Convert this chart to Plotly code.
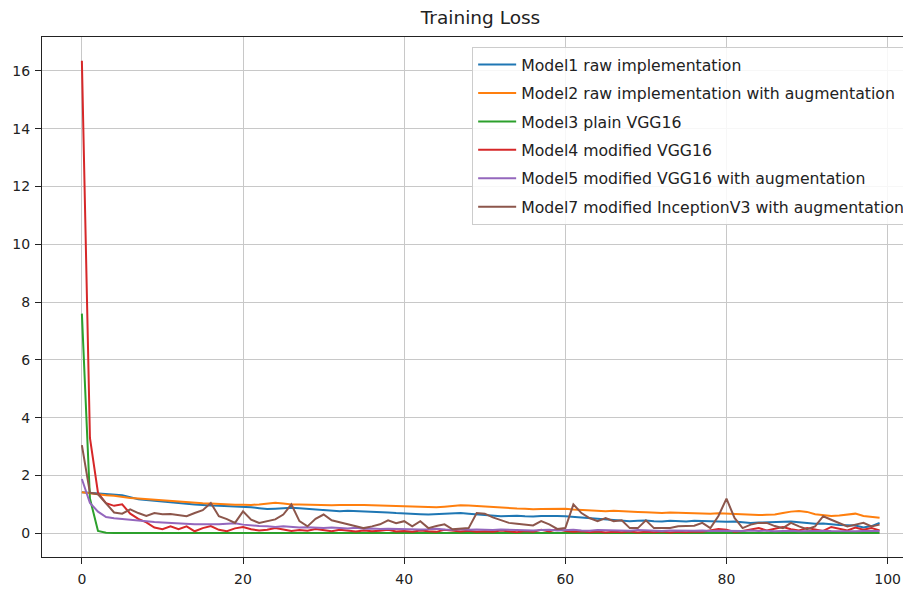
import plotly.graph_objects as go

epochs = list(range(100))

model1 = [1.42, 1.40, 1.38, 1.37, 1.35, 1.32, 1.25, 1.18, 1.15, 1.12,
          1.10, 1.06, 1.04, 1.02, 1.00, 0.97, 0.96, 0.95, 0.94, 0.93,
          0.92, 0.90, 0.87, 0.84, 0.85, 0.87, 0.88, 0.87, 0.85, 0.82,
          0.80, 0.78, 0.76, 0.78, 0.77, 0.76, 0.76, 0.74, 0.72, 0.70,
          0.68, 0.67, 0.66, 0.65, 0.66, 0.68, 0.69, 0.70, 0.68, 0.66,
          0.62, 0.60, 0.59, 0.60, 0.61, 0.59, 0.58, 0.60, 0.61, 0.60,
          0.59, 0.57, 0.55, 0.53, 0.52, 0.50, 0.47, 0.44, 0.42, 0.43,
          0.44, 0.42, 0.41, 0.43, 0.42, 0.41, 0.43, 0.42, 0.40, 0.39,
          0.40, 0.41, 0.38, 0.36, 0.37, 0.38, 0.40, 0.39, 0.41, 0.38,
          0.35, 0.33, 0.34, 0.31, 0.29, 0.28, 0.27, 0.20, 0.25, 0.36]

model2 = [1.42, 1.38, 1.35, 1.32, 1.30, 1.25, 1.22, 1.20, 1.18, 1.15,
          1.12, 1.10, 1.08, 1.06, 1.05, 1.04, 1.03, 1.01, 1.00, 0.99,
          0.99, 0.98, 1.00, 1.03, 1.06, 1.03, 1.00, 1.00, 0.99, 0.98,
          0.98, 0.97, 0.98, 0.99, 0.98, 0.98, 0.97, 0.97, 0.96, 0.95,
          0.94, 0.93, 0.92, 0.89, 0.90, 0.92, 0.95, 0.97, 0.96, 0.94,
          0.92, 0.90, 0.88, 0.88, 0.86, 0.85, 0.83, 0.84, 0.85, 0.86,
          0.85, 0.82, 0.80, 0.78, 0.77, 0.76, 0.78, 0.76, 0.75, 0.74,
          0.73, 0.71, 0.70, 0.72, 0.71, 0.72, 0.70, 0.69, 0.68, 0.69,
          0.68, 0.66, 0.64, 0.63, 0.63, 0.64, 0.65, 0.70, 0.75, 0.77,
          0.74, 0.66, 0.62, 0.60, 0.62, 0.66, 0.68, 0.60, 0.56, 0.54]

model3 = [7.60, 1.20, 0.08, 0.02, 0.01, 0.01, 0.01, 0.01, 0.01, 0.01,
          0.01, 0.01, 0.01, 0.01, 0.01, 0.01, 0.01, 0.01, 0.01, 0.01,
          0.01, 0.01, 0.01, 0.01, 0.01, 0.01, 0.01, 0.01, 0.01, 0.01,
          0.01, 0.01, 0.01, 0.01, 0.01, 0.01, 0.01, 0.01, 0.01, 0.01,
          0.01, 0.01, 0.01, 0.01, 0.01, 0.01, 0.01, 0.01, 0.01, 0.01,
          0.01, 0.01, 0.01, 0.01, 0.01, 0.01, 0.01, 0.01, 0.01, 0.01,
          0.01, 0.01, 0.01, 0.01, 0.01, 0.01, 0.01, 0.01, 0.01, 0.01,
          0.01, 0.01, 0.01, 0.01, 0.01, 0.01, 0.01, 0.01, 0.01, 0.01,
          0.01, 0.01, 0.01, 0.01, 0.01, 0.01, 0.01, 0.01, 0.01, 0.01,
          0.01, 0.01, 0.01, 0.01, 0.01, 0.01, 0.01, 0.01, 0.01, 0.01]

model4 = [16.35, 3.30, 1.40, 1.04, 0.95, 1.00, 0.68, 0.50, 0.38, 0.20,
          0.14, 0.24, 0.14, 0.24, 0.07, 0.18, 0.25, 0.12, 0.07, 0.17,
          0.22, 0.14, 0.10, 0.12, 0.18, 0.12, 0.08, 0.11, 0.09, 0.15,
          0.10, 0.07, 0.12, 0.08, 0.06, 0.10, 0.07, 0.09, 0.12, 0.06,
          0.08, 0.05, 0.10, 0.07, 0.05, 0.12, 0.08, 0.06, 0.09, 0.05,
          0.07, 0.05, 0.10, 0.06, 0.04, 0.08, 0.05, 0.12, 0.06, 0.15,
          0.08, 0.05, 0.07, 0.04, 0.06, 0.03, 0.05, 0.04, 0.06, 0.03,
          0.05, 0.04, 0.06, 0.03, 0.05, 0.04, 0.06, 0.05, 0.10, 0.15,
          0.12, 0.05, 0.08, 0.12, 0.18, 0.10, 0.15, 0.22, 0.14, 0.10,
          0.18, 0.12, 0.08, 0.22, 0.15, 0.10, 0.20, 0.12, 0.18, 0.10]

model5 = [1.88, 1.05, 0.75, 0.56, 0.52, 0.49, 0.47, 0.45, 0.42, 0.39,
          0.37, 0.35, 0.33, 0.32, 0.31, 0.31, 0.30, 0.31, 0.33, 0.35,
          0.30, 0.27, 0.25, 0.24, 0.22, 0.24, 0.22, 0.20, 0.21, 0.19,
          0.18, 0.20, 0.18, 0.17, 0.19, 0.16, 0.17, 0.15, 0.16, 0.15,
          0.14, 0.15, 0.13, 0.14, 0.16, 0.13, 0.12, 0.14, 0.12, 0.13,
          0.12, 0.11, 0.13, 0.12, 0.11, 0.12, 0.10, 0.11, 0.12, 0.10,
          0.11, 0.12, 0.10, 0.09, 0.11, 0.10, 0.09, 0.10, 0.09, 0.11,
          0.10, 0.09, 0.08, 0.10, 0.09, 0.08, 0.09, 0.10, 0.08, 0.09,
          0.08, 0.09, 0.08, 0.10, 0.08, 0.09, 0.07, 0.08, 0.09, 0.07,
          0.08, 0.07, 0.09, 0.08, 0.07, 0.08, 0.07, 0.08, 0.07, 0.08]

model7 = [3.05, 1.40, 1.35, 1.05, 0.72, 0.68, 0.83, 0.70, 0.60, 0.70,
          0.66, 0.67, 0.62, 0.59, 0.70, 0.80, 1.05, 0.59, 0.49, 0.36,
          0.76, 0.47, 0.36, 0.42, 0.48, 0.65, 1.00, 0.42, 0.24, 0.50,
          0.65, 0.45, 0.38, 0.31, 0.25, 0.18, 0.24, 0.31, 0.45, 0.35,
          0.42, 0.24, 0.42, 0.18, 0.25, 0.31, 0.14, 0.16, 0.18, 0.70,
          0.68, 0.55, 0.45, 0.36, 0.33, 0.31, 0.27, 0.42, 0.31, 0.15,
          0.18, 1.00, 0.70, 0.53, 0.42, 0.53, 0.42, 0.45, 0.18, 0.18,
          0.45, 0.18, 0.18, 0.18, 0.24, 0.24, 0.26, 0.36, 0.18, 0.60,
          1.20, 0.53, 0.18, 0.30, 0.36, 0.36, 0.25, 0.18, 0.36, 0.24,
          0.14, 0.24, 0.59, 0.47, 0.36, 0.24, 0.30, 0.36, 0.24, 0.30]

series_names = ["Model1 raw implementation",
                "Model2 raw implementation with augmentation",
                "Model3 plain VGG16",
                "Model4 modified VGG16",
                "Model5 modified VGG16 with augmentation",
                "Model7 modified InceptionV3 with augmentation"]
series_values = [model1, model2, model3, model4, model5, model7]
colors = ["#1f77b4", "#ff7f0e", "#2ca02c", "#d62728", "#9467bd", "#8c564b"]

x_ticks = [0, 20, 40, 60, 80, 100]
y_ticks = [0, 2, 4, 6, 8, 10, 12, 14, 16]

fig = go.Figure()
for name, vals, col in zip(series_names, series_values, colors):
    fig.add_trace(go.Scatter(x=epochs, y=vals, mode="lines", name=name,
                             legendgroup=name,
                             line=dict(color=col, width=2)))

font_family = "DejaVu Sans"
# page body has an 8px margin; the figure is sized so it ends at the window edge
fig.update_layout(
    width=903, height=587,
    margin=dict(l=34, r=0, t=29, b=38),
    paper_bgcolor="white", plot_bgcolor="white",
    font=dict(family=font_family, size=14, color="#222"),
    title=dict(text="Training Loss", x=0.5 + 4 / 869, xref="paper",
               y=1 - 10 / 587, yref="container", xanchor="center",
               yanchor="middle", font=dict(size=18.5, color="#222")),
    showlegend=True,
    legend=dict(x=0.495, y=0.981, xanchor="left", yanchor="top",
                bgcolor="rgba(255,255,255,0.85)", bordercolor="#cccccc",
                borderwidth=1, font=dict(size=15.7, color="#222"),
                tracegroupgap=5, itemwidth=38),
    xaxis=dict(range=[-4.95, 102.9], tickvals=x_ticks, showgrid=True,
               gridcolor="#c8c8c8", gridwidth=1, zeroline=False,
               showline=True, linecolor="#222", linewidth=1.2, mirror=True,
               ticks="outside", ticklen=6, tickcolor="#222",
               ticklabelstandoff=3),
    yaxis=dict(range=[-0.82, 17.17], tickvals=y_ticks, showgrid=True,
               gridcolor="#c8c8c8", gridwidth=1, zeroline=False,
               showline=True, linecolor="#222", linewidth=1.2,
               ticks="outside", ticklen=6, tickcolor="#222",
               ticklabelstandoff=2),
)

fig.write_html("out.html")
